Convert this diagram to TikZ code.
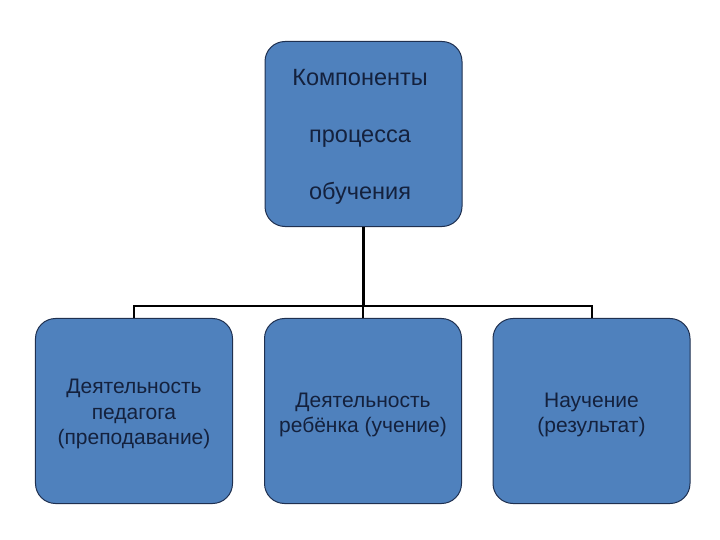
\documentclass[tikz,border=0pt]{standalone}
\usepackage{fontspec}
\setmainfont{Liberation Sans}
\definecolor{boxfill}{HTML}{4F81BD}
\definecolor{boxline}{HTML}{1F3050}
\definecolor{boxtext}{HTML}{14213D}
\begin{document}
\begin{tikzpicture}[x=1bp,y=-1bp,
  blk/.style={draw=boxline,line width=1bp,fill=boxfill,rounded corners=20bp,
    minimum width=197bp,minimum height=185bp,inner sep=0pt,align=center,
    text=boxtext,font=\fontsize{21bp}{25.5bp}\selectfont},
  lbl/.style={inner sep=0pt,align=center,text=boxtext},
  conn/.style={line width=2bp,black}]
\useasboundingbox (0,0) rectangle (720,540);
\node[blk] (top) at (363.5,134) {};
\node[lbl,font=\fontsize{23.5bp}{57bp}\selectfont] (toptext) at (360,137) {Компоненты\\процесса\\обучения};
\node[blk] (l) at (134,411) {};
\node[lbl,font=\fontsize{21bp}{25.5bp}\selectfont] (ltext) at (134,414) {Деятельность\\педагога\\(преподавание)};
\node[blk] (m) at (363,411) {};
\node[lbl,font=\fontsize{21bp}{25.5bp}\selectfont] (mtext) at (363,415) {Деятельность\\ребёнка (учение)};
\node[blk] (r) at (591.5,411) {};
\node[lbl,font=\fontsize{21bp}{25.5bp}\selectfont] (rtext) at (591.5,415) {Научение\\(результат)};
\coordinate (j) at (363,306);
\draw[conn,line width=2.5bp] (top.south) -- (top.south |- j);
\draw[conn] (l.north) |- (r.north |- j) -- (r.north);
\draw[conn] (m.north) -- (m.north |- j);
\end{tikzpicture}
\end{document}
